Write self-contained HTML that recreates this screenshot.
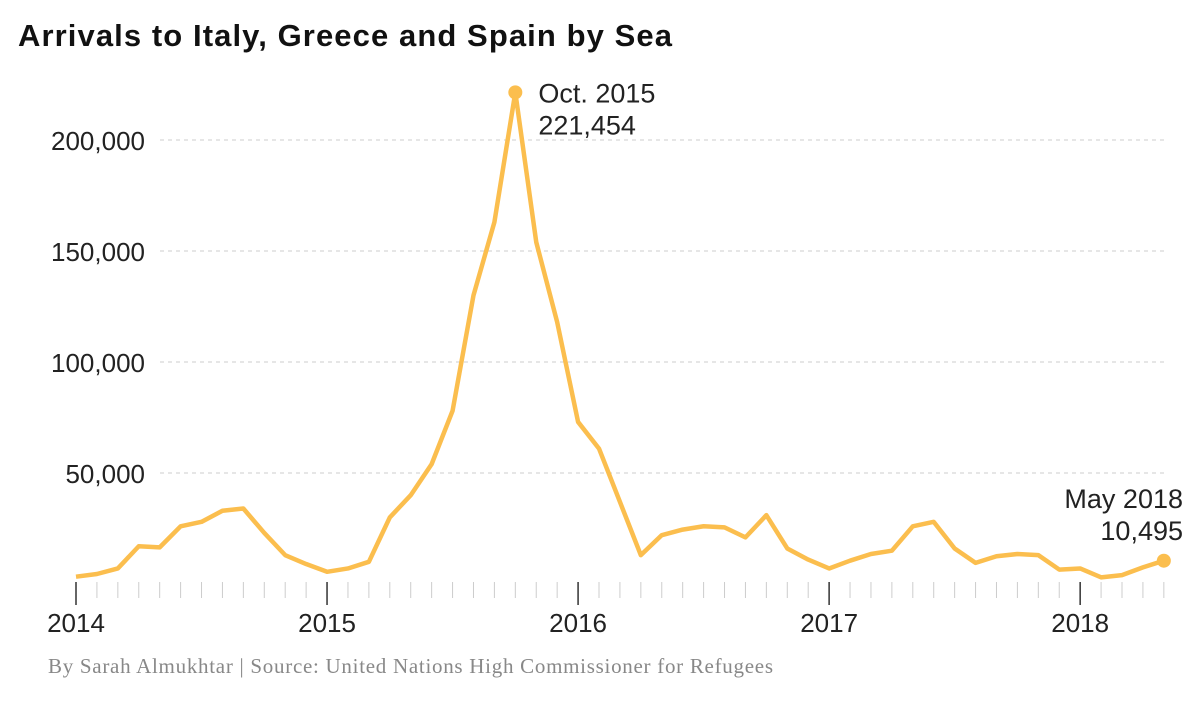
<!DOCTYPE html>
<html><head><meta charset="utf-8"><style>
body{margin:0;background:#fff;width:1200px;height:700px;overflow:hidden}
text{font-family:"Liberation Sans",sans-serif}
</style></head><body>
<svg id="chart" width="1200" height="700">
<text x="18" y="46" font-size="31" font-weight="bold" fill="#111" textLength="654">Arrivals to Italy, Greece and Spain by Sea</text>
<g id="grid"></g><g id="axis"></g><g id="series"></g><g id="ann"></g>
<text x="48" y="673" font-size="21" fill="#888" textLength="725" style="font-family:'Liberation Serif',serif">By Sarah Almukhtar | Source: United Nations High Commissioner for Refugees</text>
</svg>
<script>
const yTicks=[50000,100000,150000,200000];
const yTickLabels=["50,000","100,000","150,000","200,000"];
const years=[2014,2015,2016,2017,2018];
const values=[3300,4500,7000,17000,16500,26000,28000,33000,34000,23000,13000,9000,5500,7000,10000,30000,40000,54000,78000,130000,163000,221454,154000,118000,73000,61000,37000,13000,22000,24500,26000,25500,21000,31000,16000,11000,7000,10500,13500,15000,26000,28000,16000,9500,12500,13500,13000,6500,7000,3000,4000,7500,10495];
const NS="http://www.w3.org/2000/svg";
const x=i=>76+i*20.92;
const y=v=>584-v*0.00222;
function mk(t,a,p){const e=document.createElementNS(NS,t);for(const k in a)e.setAttribute(k,a[k]);document.getElementById(p).appendChild(e);return e;}
yTicks.forEach((v,i)=>{
 const l=mk('line',{x1:160,x2:1165,y1:y(v),y2:y(v),stroke:'#ccc','stroke-dasharray':'4,4'},'grid');
 
 
 const t=mk('text',{x:145,y:y(v)+10,'text-anchor':'end','font-size':26,fill:'#222'},'grid');
 t.textContent=yTickLabels[i];
 
 
});
for(let i=0;i<values.length;i++){
 const isYear=i%12===0;
 const l=mk('line',{x1:x(i),x2:x(i),y1:582,y2:isYear?605:598,stroke:isYear?'#333':'#ccc','stroke-width':isYear?1.5:1},'axis');
 
 
}
years.forEach((yr,k)=>{
 const t=mk('text',{x:x(k*12),y:632,'text-anchor':'middle','font-size':26,fill:'#222'},'axis');
 t.textContent=yr;
 
 
});
const p=mk('polyline',{points:values.map((v,i)=>x(i)+','+y(v)).join(' '),fill:'none',stroke:'#fbbe4e','stroke-width':4.5,'stroke-linejoin':'round'},'series');


const pk=values.indexOf(Math.max(...values)),last=values.length-1;
[pk,last].forEach(i=>{
 const c=mk('circle',{cx:x(i),cy:y(values[i]),r:7,fill:'#fbbe4e'},'ann');
 
 
});
function lab(s,xx,yy,anch){const t=mk('text',{x:xx,y:yy,'font-size':27,fill:'#222','text-anchor':anch},'ann');t.textContent=s;
 
 }
lab('Oct. 2015',x(pk)+23,y(values[pk])+10,'start');
lab(values[pk].toLocaleString('en-US'),x(pk)+23,y(values[pk])+42,'start');
lab('May 2018',1183,508,'end');
lab(values[last].toLocaleString('en-US'),1183,540,'end');
</script>
</body></html>
